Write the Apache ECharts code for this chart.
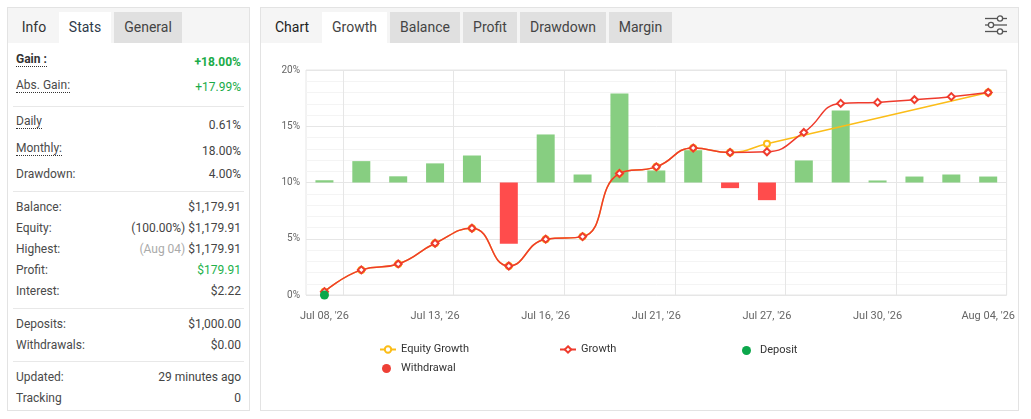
<!DOCTYPE html>
<html>
<head>
<meta charset="utf-8">
<script src="https://cdn.jsdelivr.net/npm/echarts@6/dist/echarts.min.js"></script>
<style>
  html, body { margin:0; padding:0; background:#fff; }
  body { width:1031px; height:419px; position:relative; overflow:hidden; font-family: Roboto, "Noto Sans", Arial, sans-serif; }
  .abs { position:absolute; white-space:nowrap; }
  .panel { position:absolute; border:1px solid #e3e3e3; box-sizing:border-box; background:#fff; }
  .hdr { position:absolute; background:#f5f5f5; }
  .tab { position:absolute; top:12px; height:31px; line-height:31px; font-size:14px; color:#444; text-align:center; }
  .lbl { position:absolute; left:16px; font-size:12px; line-height:14px; height:14px; color:#4a4a4a; }
  .val { position:absolute; right:790px; font-size:12px; line-height:14px; color:#444; text-align:right; }
  .dot { border-bottom:1px dotted #333; }
  .sep { position:absolute; left:13px; width:231px; height:1px; background:#e8e8e8; }
  #chart { position:absolute; left:261px; top:44px; width:757px; height:365px; }
</style>
</head>
<body>
<!-- left panel -->
<div class="panel" style="left:7px;top:7px;width:243px;height:404px;"></div>
<div class="hdr" style="left:8px;top:8px;width:241px;height:35px;"></div>
<div class="tab" style="left:15px;width:38px;color:#333;">Info</div>
<div class="tab" style="left:59px;width:52px;background:#fff;color:#2e3a4a;">Stats</div>
<div class="tab" style="left:114px;width:68px;background:#e0e0e0;">General</div>

<div class="lbl dot" style="top:52px;font-weight:bold;color:#333;">Gain :</div>
<div class="val" style="top:55px;font-weight:bold;color:#1aab48;">+18.00%</div>
<div class="lbl dot" style="top:78px;">Abs. Gain:</div>
<div class="val" style="top:80px;color:#1aab48;">+17.99%</div>
<div class="sep" style="top:106px;"></div>
<div class="lbl dot" style="top:114px;">Daily</div>
<div class="val" style="top:118px;">0.61%</div>
<div class="lbl dot" style="top:141px;">Monthly:</div>
<div class="val" style="top:144px;">18.00%</div>
<div class="lbl" style="top:167px;">Drawdown:</div>
<div class="val" style="top:167px;">4.00%</div>
<div class="sep" style="top:191px;"></div>
<div class="lbl" style="top:200px;">Balance:</div>
<div class="val" style="top:200px;">$1,179.91</div>
<div class="lbl" style="top:221px;">Equity:</div>
<div class="val" style="top:221px;">(100.00%) $1,179.91</div>
<div class="lbl" style="top:242px;">Highest:</div>
<div class="val" style="top:242px;"><span style="color:#aaa;">(Aug 04)</span> $1,179.91</div>
<div class="lbl" style="top:263px;">Profit:</div>
<div class="val" style="top:263px;color:#22b14c;">$179.91</div>
<div class="lbl" style="top:284px;">Interest:</div>
<div class="val" style="top:284px;">$2.22</div>
<div class="sep" style="top:308px;"></div>
<div class="lbl" style="top:317px;">Deposits:</div>
<div class="val" style="top:317px;">$1,000.00</div>
<div class="lbl" style="top:338px;">Withdrawals:</div>
<div class="val" style="top:338px;">$0.00</div>
<div class="sep" style="top:361px;"></div>
<div class="lbl" style="top:370px;">Updated:</div>
<div class="val" style="top:370px;">29 minutes ago</div>
<div class="lbl" style="top:391px;">Tracking</div>
<div class="val" style="top:391px;">0</div>

<!-- right panel -->
<div class="panel" style="left:260px;top:7px;width:759px;height:404px;"></div>
<div class="hdr" style="left:261px;top:8px;width:757px;height:35px;"></div>
<div class="tab" style="left:268px;width:48px;color:#222;">Chart</div>
<div class="tab" style="left:322px;width:65px;background:#fff;">Growth</div>
<div class="tab" style="left:390px;width:70px;background:#e0e0e0;">Balance</div>
<div class="tab" style="left:463px;width:54px;background:#e0e0e0;">Profit</div>
<div class="tab" style="left:520px;width:86px;background:#e0e0e0;">Drawdown</div>
<div class="tab" style="left:609px;width:63px;background:#e0e0e0;">Margin</div>
<svg class="abs" style="left:984px;top:15px;" width="24" height="20" viewBox="0 0 24 20">
  <g stroke="#555" stroke-width="1.3" fill="#fff">
    <line x1="1" y1="3.5" x2="23" y2="3.5"/>
    <line x1="1" y1="10" x2="23" y2="10"/>
    <line x1="1" y1="16.5" x2="23" y2="16.5"/>
    <circle cx="16" cy="3.5" r="2.6"/>
    <circle cx="7" cy="10" r="2.6"/>
    <circle cx="16" cy="16.5" r="2.6"/>
  </g>
</svg>
<div id="chart"></div>

<script>
const categories = ["Jul 08, '26","Jul 09, '26","Jul 10, '26","Jul 13, '26","Jul 14, '26","Jul 15, '26","Jul 16, '26","Jul 17, '26","Jul 20, '26","Jul 21, '26","Jul 22, '26","Jul 23, '26","Jul 27, '26","Jul 28, '26","Jul 29, '26","Jul 30, '26","Jul 31, '26","Aug 03, '26","Aug 04, '26"];
const growthValues = [0.3, 2.23, 2.76, 4.6, 5.93, 2.58, 4.96, 5.19, 10.8, 11.39, 13.06, 12.67, 12.73, 14.45, 17.03, 17.12, 17.36, 17.63, 18.0];
const equityValues = [0.3, 2.23, 2.76, 4.6, 5.93, 2.58, 4.96, 5.19, 10.8, 11.39, 13.06, 12.67, 13.44, null, null, null, null, null, 18.0];
const dailyBars = [0.2, 1.9, 0.55, 1.7, 2.4, -5.45, 4.27, 0.71, 7.91, 1.07, 2.87, -0.5, -1.57, 1.96, 6.4, 0.18, 0.53, 0.71, 0.53];
const depositValues = [0, null, null, null, null, null, null, null, null, null, null, null, null, null, null, null, null, null, null];
const withdrawalValues = [];
const yTicks = { min: 0, max: 20, interval: 5 };

const chart = echarts.init(document.getElementById('chart'));
const legendText = { color: '#333', fontSize: 11, fontFamily: 'Roboto, Arial, sans-serif' };
chart.setOption({
  animation: false,
  grid: { left: 45, right: 11, top: 26, bottom: 114, show: true, borderColor: '#e6e6e6', borderWidth: 1 },
  legend: [
    { data: ['Equity Growth'], left: 118, top: 300, padding: 0, itemWidth: 16, itemHeight: 8, textStyle: legendText },
    { data: ['Growth'], left: 298, top: 300, padding: 0, itemWidth: 16, itemHeight: 8, textStyle: legendText },
    { data: ['Deposit'], left: 481, top: 301, padding: 0, itemWidth: 9, itemHeight: 9, textStyle: Object.assign({ padding: [0, 0, 0, 4] }, legendText) },
    { data: ['Withdrawal'], left: 121, top: 319, padding: 0, itemWidth: 9, itemHeight: 9, textStyle: Object.assign({ padding: [0, 0, 0, 5] }, legendText) }
  ],
  xAxis: {
    type: 'category',
    data: categories,
    boundaryGap: true,
    axisLine: { show: false },
    axisTick: { show: false },
    axisLabel: { interval: 2, color: '#666', fontSize: 11, margin: 16, fontFamily: 'Roboto, Arial, sans-serif' },
    splitLine: { show: true, interval: function (i) { return i % 3 === 1; }, lineStyle: { color: '#e6e6e6' } }
  },
  yAxis: [
    {
      type: 'value', min: yTicks.min, max: yTicks.max, interval: yTicks.interval,
      axisLine: { show: false }, axisTick: { show: false },
      axisLabel: { formatter: '{value}%', color: '#666', fontSize: 10, margin: 6, fontFamily: 'Roboto, Arial, sans-serif' },
      splitLine: { lineStyle: { color: '#e6e6e6' } },
      minorTick: { show: false, splitNumber: 5 },
      minorSplitLine: { show: true, lineStyle: { color: '#f4f4f4' } }
    },
    { type: 'value', min: -10, max: 10, show: false, splitLine: { show: false } }
  ],
  series: [
    {
      name: 'Daily', type: 'bar', yAxisIndex: 1, barWidth: 18, data: dailyBars,
      itemStyle: { color: function (p) { return p.value >= 0 ? '#87ce81' : '#ff4c4c'; } },
      z: 1
    },
    {
      name: 'Equity Growth', type: 'line', data: equityValues, smooth: true, connectNulls: true,
      symbol: 'emptyCircle', symbolSize: 6, showSymbol: true,
      itemStyle: { borderWidth: 1.2 },
      color: '#fbbd18', lineStyle: { width: 1.5, color: '#fbbd18' }, z: 3
    },
    {
      name: 'Growth', type: 'line', data: growthValues, smooth: true,
      symbol: 'emptyDiamond', symbolSize: 7, showSymbol: true,
      itemStyle: { borderWidth: 1.2 },
      color: '#ef3b2d', lineStyle: { width: 1.5, color: '#ef3b2d' }, z: 4
    },
    {
      name: 'Deposit', type: 'scatter', data: depositValues, symbol: 'circle', symbolSize: 9,
      color: '#0ca74b', itemStyle: { opacity: 1 }, z: 5
    },
    {
      name: 'Withdrawal', type: 'scatter', data: withdrawalValues, symbol: 'circle', symbolSize: 9,
      color: '#ee4036', itemStyle: { opacity: 1 }, z: 5
    }
  ]
});
</script>
</body>
</html>
